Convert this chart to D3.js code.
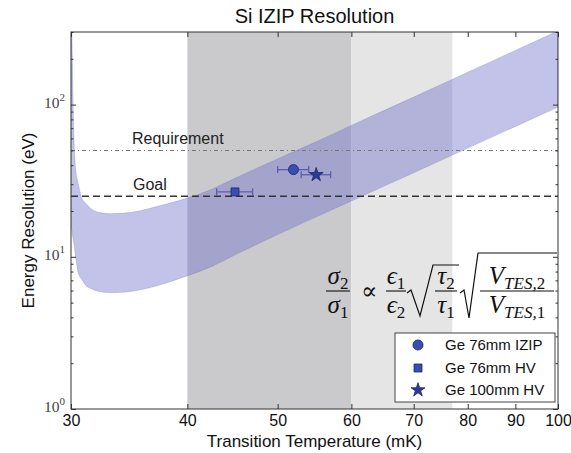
<!DOCTYPE html>
<html>
<head>
<meta charset="utf-8">
<script src="https://cdn.jsdelivr.net/npm/d3@7"></script>
<style>
  html, body { margin: 0; padding: 0; background: #fff; }
  .sans { font-family: "Liberation Sans", Arial, sans-serif; }
  .serif { font-family: "Liberation Serif", "Times New Roman", serif; }
</style>
</head>
<body>
<div id="root"></div>
<script>
// valores
const bandT    = [30.02, 30.1, 30.2, 30.35, 30.55, 30.8, 31.1, 31.5, 32.1, 33, 34, 35.5, 37, 38.5, 40, 42.5, 45, 50, 55, 60, 70, 80, 90, 100];
const bandHigh = [600, 198, 70, 37.4, 30, 24.4, 22.5, 20.8, 19.6, 19.2, 19.3, 20.0, 21.3, 22.7, 24.3, 27.8, 32.8, 44, 57, 73, 112, 163, 227, 305];
const bandLow  = [16, 14, 12.5, 10.0, 7.8, 7.15, 6.5, 6.2, 5.93, 5.82, 5.84, 6.05, 6.42, 6.92, 7.5, 8.65, 10.3, 14, 18.3, 23.3, 35.7, 51.8, 71.9, 96.3];

const tempTicks = [30, 40, 50, 60, 70, 80, 90, 100];
const energyDecades = [1, 10, 100];
const regionDark  = [40, 60];
const regionLight = [60, 77];
const requirement = 50;
const goal = 25;

const detNames = ['Ge 76mm IZIP', 'Ge 76mm HV', 'Ge 100mm HV'];
const detTemp  = [52, 45, 55];
const detLo    = [50, 43, 53];
const detHi    = [54, 47, 57];
const detRes   = [37.4, 26.7, 34.6];
const detShape = ['circle', 'square', 'star'];

const W = 571, H = 453;
const m = { left: 71, right: 558, top: 32, bottom: 409 };

const x = d3.scaleLog().domain([30, 100]).range([m.left, m.right]);
const y = d3.scaleLog().domain([1, 300]).range([m.bottom, m.top]);

const svg = d3.select('#root').append('svg').attr('width', W).attr('height', H);

svg.append('defs').append('clipPath').attr('id', 'plot')
  .append('rect').attr('x', m.left).attr('y', m.top)
  .attr('width', m.right - m.left).attr('height', m.bottom - m.top);

const g = svg.append('g').attr('clip-path', 'url(#plot)');

// faixas de temperatura
g.append('rect')
  .attr('x', x(regionDark[0])).attr('width', x(regionDark[1]) - x(regionDark[0]))
  .attr('y', m.top).attr('height', m.bottom - m.top).attr('fill', '#cacacd');
g.append('rect')
  .attr('x', x(regionLight[0])).attr('width', x(regionLight[1]) - x(regionLight[0]))
  .attr('y', m.top).attr('height', m.bottom - m.top).attr('fill', '#e5e5e5');

// banda de resolução
const band = bandT.map((t, i) => ({ t, lo: bandLow[i], hi: bandHigh[i] }));
g.append('path')
  .datum(band)
  .attr('d', d3.area().x(d => x(d.t)).y0(d => y(d.lo)).y1(d => y(d.hi)).curve(d3.curveMonotoneX))
  .attr('fill', 'rgb(106,106,200)').attr('fill-opacity', 0.4)
  .attr('stroke', 'rgb(106,106,200)').attr('stroke-opacity', 0.35).attr('stroke-width', 0.8);

// linhas de requisito e meta
g.append('line')
  .attr('x1', m.left).attr('x2', m.right).attr('y1', y(requirement)).attr('y2', y(requirement))
  .attr('stroke', '#777').attr('stroke-width', 1.1).attr('stroke-dasharray', '4,3,1,3');
g.append('line')
  .attr('x1', m.left).attr('x2', m.right).attr('y1', y(goal)).attr('y2', y(goal))
  .attr('stroke', '#333').attr('stroke-width', 1.6).attr('stroke-dasharray', '7,4');

svg.append('text').attr('class', 'sans').attr('x', 132).attr('y', y(requirement) - 6)
  .attr('font-size', 16).attr('fill', '#222').text('Requirement');
svg.append('text').attr('class', 'sans').attr('x', 133).attr('y', y(goal) - 6)
  .attr('font-size', 16).attr('fill', '#222').text('Goal');

// pontos com barras de erro
const symSize = { circle: 80, square: 64, star: 60 };
const symType = { circle: d3.symbolCircle, square: d3.symbolSquare, star: d3.symbolStar };
detTemp.forEach((t, i) => {
  const yy = y(detRes[i]);
  const eb = svg.append('g').attr('stroke', '#5c5cb8').attr('stroke-width', 1.3);
  eb.append('line').attr('x1', x(detLo[i])).attr('x2', x(detHi[i])).attr('y1', yy).attr('y2', yy);
  eb.append('line').attr('x1', x(detLo[i])).attr('x2', x(detLo[i])).attr('y1', yy - 3.5).attr('y2', yy + 3.5);
  eb.append('line').attr('x1', x(detHi[i])).attr('x2', x(detHi[i])).attr('y1', yy - 3.5).attr('y2', yy + 3.5);
  svg.append('path')
    .attr('transform', `translate(${x(t)},${yy})`)
    .attr('d', d3.symbol().type(symType[detShape[i]]).size(symSize[detShape[i]])())
    .attr('fill', detShape[i] === 'star' ? '#2a3a95' : '#3a4db0')
    .attr('stroke', '#1c2670').attr('stroke-width', 0.8);
});

// eixos
const xFmt = d3.format('d');
const axB = svg.append('g').attr('transform', `translate(0,${m.bottom})`)
  .call(d3.axisBottom(x).tickValues(tempTicks).tickSize(-5).tickPadding(6).tickFormat(xFmt));
const axT = svg.append('g').attr('transform', `translate(0,${m.top})`)
  .call(d3.axisTop(x).tickValues(tempTicks).tickSize(-5).tickFormat(''));

const minorE = [];
energyDecades.forEach(d => { for (let k = 2; k <= 9; k++) if (d * k <= 300) minorE.push(d * k); });

const axL  = svg.append('g').attr('transform', `translate(${m.left},0)`)
  .call(d3.axisLeft(y).tickValues(energyDecades).tickSize(-5).tickFormat(''));
const axLm = svg.append('g').attr('transform', `translate(${m.left},0)`)
  .call(d3.axisLeft(y).tickValues(minorE).tickSize(-2.5).tickFormat(''));
const axR  = svg.append('g').attr('transform', `translate(${m.right},0)`)
  .call(d3.axisRight(y).tickValues(energyDecades).tickSize(-5).tickFormat(''));
const axRm = svg.append('g').attr('transform', `translate(${m.right},0)`)
  .call(d3.axisRight(y).tickValues(minorE).tickSize(-2.5).tickFormat(''));

[axB, axT, axL, axLm, axR, axRm].forEach(a => {
  a.select('.domain').remove();
  a.selectAll('line').attr('stroke', '#333');
});
axB.selectAll('text').attr('class', 'sans').attr('font-size', 16).attr('fill', '#111');

// rótulos 10^n
energyDecades.forEach(d => {
  const t = svg.append('text').attr('class', 'serif')
    .attr('x', m.left - 6).attr('y', y(d) + 3)
    .attr('text-anchor', 'end').attr('font-size', 15.5).attr('fill', '#444');
  t.append('tspan').text('10');
  t.append('tspan').attr('dy', -7).attr('font-size', 11).text(Math.round(Math.log10(d)));
});

// moldura
svg.append('rect')
  .attr('x', m.left).attr('y', m.top)
  .attr('width', m.right - m.left).attr('height', m.bottom - m.top)
  .attr('fill', 'none').attr('stroke', '#333').attr('stroke-width', 1);

// títulos
svg.append('text').attr('class', 'sans')
  .attr('x', (m.left + m.right) / 2).attr('y', 23).attr('text-anchor', 'middle')
  .attr('font-size', 20).attr('fill', '#111').text('Si IZIP Resolution');
svg.append('text').attr('class', 'sans')
  .attr('x', (m.left + m.right) / 2).attr('y', 447).attr('text-anchor', 'middle')
  .attr('font-size', 17).attr('fill', '#111').text('Transition Temperature (mK)');
svg.append('text').attr('class', 'sans')
  .attr('transform', `translate(34,${(m.top + m.bottom) / 2}) rotate(-90)`)
  .attr('text-anchor', 'middle').attr('font-size', 17).attr('fill', '#111')
  .text('Energy Resolution (eV)');

// fórmula
const fm = svg.append('g').attr('class', 'serif').attr('fill', '#111');
const axisY = 291;
function frac(cx, x0, x1, num, den, subN, subD) {
  fm.append('line').attr('x1', x0).attr('x2', x1).attr('y1', axisY).attr('y2', axisY)
    .attr('stroke', '#111').attr('stroke-width', 1.1);
  [[num, subN, axisY - 7], [den, subD, axisY + 22]].forEach(([s, sub, by]) => {
    const t = fm.append('text').attr('x', cx).attr('y', by).attr('text-anchor', 'middle')
      .attr('font-size', 25).attr('font-style', 'italic');
    t.append('tspan').text(s);
    const sp = t.append('tspan').attr('dy', 5).attr('font-size', 17);
    if (Array.isArray(sub)) {
      sp.attr('font-style', 'italic').text(sub[0]);
      t.append('tspan').attr('font-size', 17).attr('font-style', 'normal').text(sub[1]);
    } else {
      sp.attr('font-style', 'normal').text(sub);
    }
  });
}
frac(338, 326, 350, 'σ', 'σ', '2', '1');
fm.append('text').attr('x', 369).attr('y', axisY + 8).attr('text-anchor', 'middle')
  .attr('font-family', '"DejaVu Serif", serif').attr('font-weight', 'lighter')
  .attr('font-size', 24).text('∝');
frac(396, 386, 406, 'ϵ', 'ϵ', '1', '2');
fm.append('path').attr('d', 'M407,293 L411,290 L420,316 L433,265 L459,265')
  .attr('fill', 'none').attr('stroke', '#111').attr('stroke-width', 1.2);
frac(446, 435, 457, 'τ', 'τ', '2', '1');
fm.append('path').attr('d', 'M460,293 L464,290 L469,318 L478,253 L557,253')
  .attr('fill', 'none').attr('stroke', '#111').attr('stroke-width', 1.2);
frac(517, 480, 554, 'V', 'V', ['TES,', '2'], ['TES,', '1']);

// legenda
const lg = svg.append('g');
lg.append('rect').attr('x', 395).attr('y', 333).attr('width', 160).attr('height', 69)
  .attr('fill', '#fff').attr('stroke', '#444').attr('stroke-width', 1);
const rowY = [345, 368, 390];
detNames.forEach((n, i) => {
  lg.append('path')
    .attr('transform', `translate(418,${rowY[i]})`)
    .attr('d', d3.symbol().type(symType[detShape[i]]).size(symSize[detShape[i]])())
    .attr('fill', detShape[i] === 'star' ? '#2a3a95' : '#3a4db0')
    .attr('stroke', '#1c2670').attr('stroke-width', 0.8);
  lg.append('text').attr('class', 'sans').attr('x', 445).attr('y', rowY[i] + 5)
    .attr('font-size', 15).attr('fill', '#111').text(n);
});
</script>
</body>
</html>
